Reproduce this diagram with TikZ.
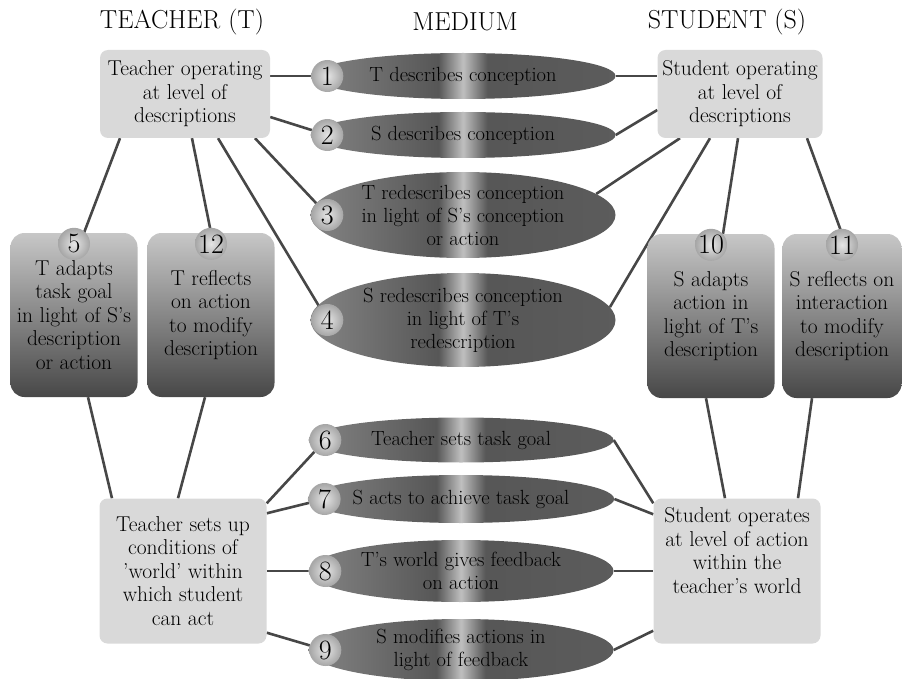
\documentclass[tikz,border=0pt]{standalone}
\usepackage{fontspec}
\usetikzlibrary{shapes.geometric,backgrounds,positioning}

% dark lens with a light streak down the middle
\pgfdeclarehorizontalshading{streak}{100bp}{color(0bp)=(black!48); color(25bp)=(black!48); color(46bp)=(black!66); color(50bp)=(black!25); color(54bp)=(black!66); color(75bp)=(black!64); color(100bp)=(black!64)}

\tikzset{
  headtext/.style={font=\fontsize{26}{30}\selectfont},
  txt/.style={font=\fontsize{21.5}{23.5}\selectfont,align=center},
  levelbox/.style={txt,fill=black!15,rounded corners=8pt,inner sep=2pt},
  mediumell/.style={txt,font=\fontsize{20.5}{23}\selectfont,ellipse,shade,shading=streak,inner xsep=0pt,inner ysep=-8pt,minimum width=305pt},
  actbox/.style={txt,rounded corners=14pt,top color=black!22,bottom color=black!72,minimum width=127pt,minimum height=164pt,inner sep=1pt},
  numball/.style={circle,inner color=black!10,outer color=black!35,minimum size=32pt,inner sep=0pt,font=\fontsize{28}{28}\selectfont},
  wire/.style={line width=2.6pt,draw=black!72},
}

\begin{document}
\begin{tikzpicture}[x=1pt,y=-1pt]
\useasboundingbox (0,0) rectangle (902,679);

\node(teacherhead) [headtext] at (182,22) {TEACHER (T)};
\node(mediumhead) [headtext] at (465,22) {MEDIUM};
\node(studenthead) [headtext] at (727,22) {STUDENT (S)};

% the four levels
\node(ttop) [levelbox,minimum width=170pt,minimum height=88pt] at (185,94) {Teacher operating\\at level of\\descriptions};
\node(stop) [levelbox,minimum width=165pt,minimum height=88pt] at (740,94) {Student operating\\at level of\\descriptions};
\node(tbot) [levelbox,minimum width=167pt,minimum height=145pt] at (183,571) {Teacher sets up\\conditions of\\'world' within\\which student\\can act};
\node(sbot) [levelbox,minimum width=167pt,minimum height=145pt] at (737,571) {};
\node(sbottext) [txt,below=6pt of sbot.north] {Student operates\\at level of action\\within the\\teacher's world};

% adaptation and reflection
\node(b5) [actbox] at (74,315) {T adapts\\task goal\\in light of S's\\description\\or action};
\node(b12) [actbox] at (211,315) {T reflects\\on action\\to modify\\description};
\node(b10) [actbox] at (711,316) {S adapts\\action in\\light of T's\\description};
\node(b11) [actbox,minimum width=119pt] at (842,316) {S reflects on\\interaction\\to modify\\description};
\node(n5) [numball] at ([yshift=-11pt]b5.north) {5};
\node(n12) [numball] at ([yshift=-11pt]b12.north) {12};
\node(n10) [numball] at ([yshift=-11pt]b10.north) {10};
\node(n11) [numball] at ([yshift=-11pt]b11.north) {11};

% the medium
\node(e1) [mediumell,minimum height=46pt] at (463,76) {T describes conception};
\node(e2) [mediumell,minimum height=46pt] at (463,135) {S describes conception};
\node(e3) [mediumell,minimum height=86pt] at (463,215) {T redescribes conception\\in light of S's conception\\or action};
\node(e4) [mediumell,minimum height=94pt] at (463,320) {S redescribes conception\\in light of T's\\redescription};
\node(e6) [mediumell,minimum height=45pt] at (461,440) {Teacher sets task goal};
\node(e7) [mediumell,minimum height=48pt] at (461,499) {S acts to achieve task goal};
\node(e8) [mediumell,minimum height=62pt] at (461,571) {T's world gives feedback\\on action};
\node(e9) [mediumell,minimum height=62pt] at (461,650) {S modifies actions in\\light of feedback};
\node(n1) [numball] at ([xshift=17pt]e1.west) {1};
\node(n2) [numball] at ([xshift=17pt]e2.west) {2};
\node(n3) [numball] at ([xshift=17pt]e3.west) {3};
\node(n4) [numball] at ([xshift=17pt]e4.west) {4};
\node(n6) [numball] at ([xshift=17pt]e6.west) {6};
\node(n7) [numball] at ([xshift=17pt]e7.west) {7};
\node(n8) [numball] at ([xshift=17pt]e8.west) {8};
\node(n9) [numball] at ([xshift=17pt]e9.west) {9};

\begin{scope}[on background layer]
\draw [wire] ([yshift=18pt]ttop.east) -- (n1);
\draw [wire] ([yshift=-23pt]ttop.east) -- (n2);
\draw [wire] ([xshift=70pt]ttop.south) -- (n3);
\draw [wire] ([xshift=33pt]ttop.south) -- (n4);
\draw [wire] ([xshift=7pt]ttop.south) -- (b12.north);
\draw [wire] ([xshift=-65pt]ttop.south) -- ([xshift=10pt]b5.north);
\draw [wire] (e1.east) -- ([yshift=18pt]stop.west);
\draw [wire] (e2.east) -- ([yshift=-16pt]stop.west);
\draw [wire] (e3.9) -- ([xshift=-60pt]stop.south);
\draw [wire] (e4.5) -- ([xshift=-30pt]stop.south);
\draw [wire] ([xshift=-2pt]stop.south) -- ([xshift=12pt]b10.north);
\draw [wire] ([xshift=67pt]stop.south) -- (b11.north);
\draw [wire] ([xshift=14pt]b5.south) -- ([xshift=-71pt]tbot.north);
\draw [wire] ([xshift=-6pt]b12.south) -- ([xshift=-5pt]tbot.north);
\draw [wire] ([yshift=-5pt]tbot.north east) -- (n6);
\draw [wire] ([yshift=-15pt]tbot.north east) -- (n7);
\draw [wire] (tbot.east) -- (n8);
\draw [wire] ([yshift=11pt]tbot.south east) -- (n9);
\draw [wire] (e6.east) -- ([yshift=-5pt]sbot.north west);
\draw [wire] (e7.east) -- ([yshift=-16pt]sbot.north west);
\draw [wire] (e8.east) -- (sbot.west);
\draw [wire] (e9.east) -- ([yshift=13pt]sbot.south west);
\draw [wire] ([xshift=-5pt]b10.south) -- ([xshift=-12pt]sbot.north);
\draw [wire] ([xshift=-30pt]b11.south) -- ([xshift=61pt]sbot.north);
\end{scope}
\end{tikzpicture}
\end{document}
